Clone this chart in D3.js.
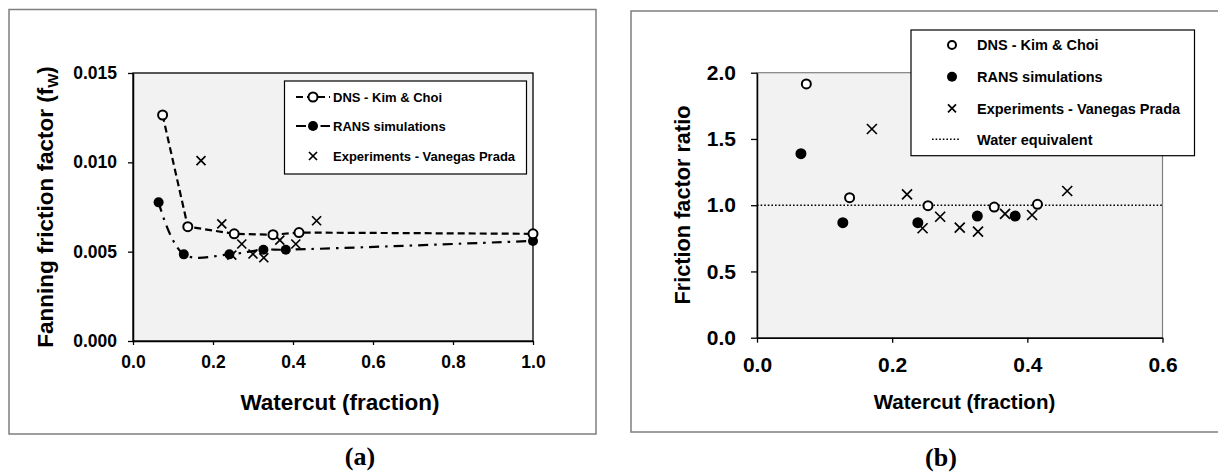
<!DOCTYPE html>
<html>
<head>
<meta charset="utf-8">
<script src="https://cdn.jsdelivr.net/npm/d3@7"></script>
<style>
  body { margin: 0; background: #fff; }
  svg { display: block; }
  text { font-family: "Liberation Sans", Arial, sans-serif; font-weight: bold; fill: #000; }
  .panel-label { font-family: "Liberation Serif", "Times New Roman", serif; }
</style>
</head>
<body>
<svg id="canvas" width="1218" height="476"></svg>
<script>
// ---- data ----
// (a) Fanning friction factor vs watercut
const dnsWatercut = [0.074, 0.137, 0.253, 0.350, 0.415, 1.0]
const dnsFriction = [0.01265, 0.0064, 0.0060, 0.00595, 0.00607, 0.0060]
const ransWatercut = [0.064, 0.127, 0.241, 0.326, 0.382, 1.0]
const ransFriction = [0.00776, 0.00485, 0.00485, 0.00511, 0.00511, 0.0056]
const expWatercut = [0.170, 0.222, 0.247, 0.272, 0.300, 0.327, 0.367, 0.407, 0.459]
const expFriction = [0.0101, 0.00655, 0.00481, 0.00543, 0.00487, 0.00466, 0.00565, 0.00543, 0.00673]

// (b) friction factor ratio vs watercut
const dnsRatioWatercut = [0.073, 0.137, 0.253, 0.351, 0.415]
const dnsRatio = [1.915, 1.057, 0.996, 0.986, 1.007]
const ransRatioWatercut = [0.065, 0.127, 0.238, 0.326, 0.382]
const ransRatio = [1.389, 0.868, 0.868, 0.918, 0.918]
const expRatioWatercut = [0.170, 0.222, 0.245, 0.271, 0.300, 0.327, 0.367, 0.407, 0.459]
const expRatio = [1.575, 1.082, 0.826, 0.913, 0.830, 0.800, 0.934, 0.926, 1.107]
const waterEquivalent = 1.0

const ticksA_x = [0, 0.2, 0.4, 0.6, 0.8, 1.0]
const ticksA_y = [0, 0.005, 0.010, 0.015]
const ticksB_x = [0, 0.2, 0.4, 0.6]
const ticksB_y = [0, 0.5, 1.0, 1.5, 2.0]

const legendA = ['DNS - Kim & Choi', 'RANS simulations', 'Experiments - Vanegas Prada']
const legendB = ['DNS - Kim & Choi', 'RANS simulations', 'Experiments - Vanegas Prada', 'Water equivalent']

const zip = (xs, ys) => xs.map((x, i) => ({ x, y: ys[i] }))

const svg = d3.select('#canvas')

// small marker helpers
function openCircle(g, x, y, r = 4.5) {
    g.append('circle').attr('cx', x).attr('cy', y).attr('r', r)
        .attr('fill', '#fff').attr('stroke', '#000').attr('stroke-width', 2)
}
function filledCircle(g, x, y, r = 5) {
    g.append('circle').attr('cx', x).attr('cy', y).attr('r', r).attr('fill', '#000')
}
function cross(g, x, y, s = 4.5) {
    g.append('path')
        .attr('d', `M${x - s},${y - s}L${x + s},${y + s}M${x - s},${y + s}L${x + s},${y - s}`)
        .attr('stroke', '#000').attr('stroke-width', 1.7).attr('fill', 'none')
}

function frame(g, x0, y0, x1, y1) {
    g.append('rect').attr('x', x0).attr('y', y0).attr('width', x1 - x0).attr('height', y1 - y0)
        .attr('fill', 'none').attr('stroke', '#7f7f7f').attr('stroke-width', 1.5)
}

// ================= panel (a) =================
{
    const g = svg.append('g')
    frame(g, 9, 9.5, 596, 434)

    const x = d3.scaleLinear().domain([0, 1]).range([133, 533])
    const y = d3.scaleLinear().domain([0, 0.015]).range([341, 73])

    g.append('rect').attr('x', x(0)).attr('y', y(0.015))
        .attr('width', x(1) - x(0)).attr('height', y(0) - y(0.015))
        .attr('fill', '#f2f2f2').attr('stroke', '#000').attr('stroke-width', 1.3)

    const xAxis = g.append('g').attr('transform', `translate(0,${y(0)})`)
        .call(d3.axisBottom(x).tickValues(ticksA_x).tickFormat(d3.format('.1f'))
            .tickSize(4).tickSizeOuter(0).tickPadding(11))
    const yAxis = g.append('g').attr('transform', `translate(${x(0)},0)`)
        .call(d3.axisLeft(y).tickValues(ticksA_y).tickFormat(d3.format('.3f'))
            .tickSize(5).tickSizeOuter(0).tickPadding(11))
    ;[xAxis, yAxis].forEach(a => {
        a.selectAll('path').attr('stroke', '#000').attr('stroke-width', 1.5)
        a.selectAll('line').attr('stroke', '#000').attr('stroke-width', 1.3)
        a.selectAll('text').attr('font-size', 17.5).attr('font-family', null).attr('fill', '#000')
    })

    // lines
    const line = d3.line().x(d => x(d.x)).y(d => y(d.y))
    g.append('path').datum(zip(dnsWatercut, dnsFriction))
        .attr('d', line).attr('fill', 'none').attr('stroke', '#000')
        .attr('stroke-width', 2.2).attr('stroke-dasharray', '7,4')
    g.append('path').datum(zip(ransWatercut, ransFriction))
        .attr('d', line.curve(d3.curveCatmullRom.alpha(0.5)))
        .attr('fill', 'none').attr('stroke', '#000')
        .attr('stroke-width', 2.2).attr('stroke-dasharray', '10,6,2.5,6')

    zip(expWatercut, expFriction).forEach(d => cross(g, x(d.x), y(d.y)))
    zip(ransWatercut, ransFriction).forEach(d => filledCircle(g, x(d.x), y(d.y)))
    zip(dnsWatercut, dnsFriction).forEach(d => openCircle(g, x(d.x), y(d.y)))

    // legend
    const lg = g.append('g')
    lg.append('rect').attr('x', 284.5).attr('y', 81).attr('width', 242).attr('height', 93)
        .attr('fill', '#fff').attr('stroke', '#000').attr('stroke-width', 1.2)
    const rows = [97, 126, 156]
    lg.append('line').attr('x1', 296).attr('x2', 330).attr('y1', rows[0]).attr('y2', rows[0])
        .attr('stroke', '#000').attr('stroke-width', 2.2).attr('stroke-dasharray', '7,4')
    openCircle(lg, 313, rows[0])
    lg.append('line').attr('x1', 296).attr('x2', 330).attr('y1', rows[1]).attr('y2', rows[1])
        .attr('stroke', '#000').attr('stroke-width', 2.2).attr('stroke-dasharray', '10,6,2.5,6')
    filledCircle(lg, 313, rows[1])
    cross(lg, 313, rows[2], 4)
    legendA.forEach((t, i) => {
        lg.append('text').attr('x', 333).attr('y', rows[i]).attr('dy', '0.36em')
            .attr('font-size', 13).text(t)
    })

    // titles
    g.append('text').attr('x', 340).attr('y', 410).attr('text-anchor', 'middle')
        .attr('font-size', 22.5).text('Watercut (fraction)')
    const yt = g.append('text').attr('transform', 'translate(53,207) rotate(-90)')
        .attr('text-anchor', 'middle').attr('font-size', 22.5)
    yt.append('tspan').text('Fanning friction factor  (f')
    yt.append('tspan').attr('font-size', 15).attr('dy', 5).text('W')
    yt.append('tspan').attr('dy', -5).text(')')

    g.append('text').attr('class', 'panel-label').attr('x', 360).attr('y', 465)
        .attr('text-anchor', 'middle').attr('font-size', 26).text('(a)')
}

// ================= panel (b) =================
{
    const g = svg.append('g')
    frame(g, 631, 11, 1226, 432)

    const x = d3.scaleLinear().domain([0, 0.6]).range([757, 1162.5])
    const y = d3.scaleLinear().domain([0, 2.0]).range([337.7, 72.7])

    g.append('rect').attr('x', x(0)).attr('y', y(2))
        .attr('width', x(0.6) - x(0)).attr('height', y(0) - y(2))
        .attr('fill', '#f2f2f2').attr('stroke', '#808080').attr('stroke-width', 1.2)

    const xAxis = g.append('g').attr('transform', `translate(0,${y(0)})`)
        .call(d3.axisBottom(x).tickValues(ticksB_x).tickFormat(d3.format('.1f'))
            .tickSize(5).tickSizeOuter(0).tickPadding(14))
    const yAxis = g.append('g').attr('transform', `translate(${x(0)},0)`)
        .call(d3.axisLeft(y).tickValues(ticksB_y).tickFormat(d3.format('.1f'))
            .tickSize(6).tickSizeOuter(0).tickPadding(15))
    ;[xAxis, yAxis].forEach(a => {
        a.selectAll('path').attr('stroke', '#000').attr('stroke-width', 1.5)
        a.selectAll('line').attr('stroke', '#000').attr('stroke-width', 1.3)
        a.selectAll('text').attr('font-size', 21).attr('font-family', null).attr('fill', '#000')
    })

    g.append('line').attr('x1', x(0)).attr('x2', x(0.6))
        .attr('y1', y(waterEquivalent)).attr('y2', y(waterEquivalent))
        .attr('stroke', '#000').attr('stroke-width', 1.6).attr('stroke-dasharray', '1.6,2')

    zip(expRatioWatercut, expRatio).forEach(d => cross(g, x(d.x), y(d.y), 5))
    zip(ransRatioWatercut, ransRatio).forEach(d => filledCircle(g, x(d.x), y(d.y), 5.5))
    zip(dnsRatioWatercut, dnsRatio).forEach(d => openCircle(g, x(d.x), y(d.y), 4.5))

    // legend
    const lg = g.append('g')
    lg.append('rect').attr('x', 911).attr('y', 30).attr('width', 283.5).attr('height', 125.7)
        .attr('fill', '#fff').attr('stroke', '#000').attr('stroke-width', 1.2)
    const rows = [45, 76.7, 108.3, 139.3]
    openCircle(lg, 952, rows[0], 4)
    filledCircle(lg, 952, rows[1], 5)
    cross(lg, 952, rows[2], 4)
    lg.append('line').attr('x1', 932).attr('x2', 960).attr('y1', rows[3]).attr('y2', rows[3])
        .attr('stroke', '#000').attr('stroke-width', 1.6).attr('stroke-dasharray', '1.6,2')
    legendB.forEach((t, i) => {
        lg.append('text').attr('x', 977).attr('y', rows[i]).attr('dy', '0.36em')
            .attr('font-size', 14.5).text(t)
    })

    // titles
    g.append('text').attr('x', 964.5).attr('y', 409).attr('text-anchor', 'middle')
        .attr('font-size', 20.5).text('Watercut (fraction)')
    g.append('text').attr('transform', 'translate(690,205) rotate(-90)')
        .attr('text-anchor', 'middle').attr('font-size', 21.7).text('Friction factor ratio')

    g.append('text').attr('class', 'panel-label').attr('x', 941).attr('y', 466)
        .attr('text-anchor', 'middle').attr('font-size', 26).text('(b)')
}
</script>
</body>
</html>
